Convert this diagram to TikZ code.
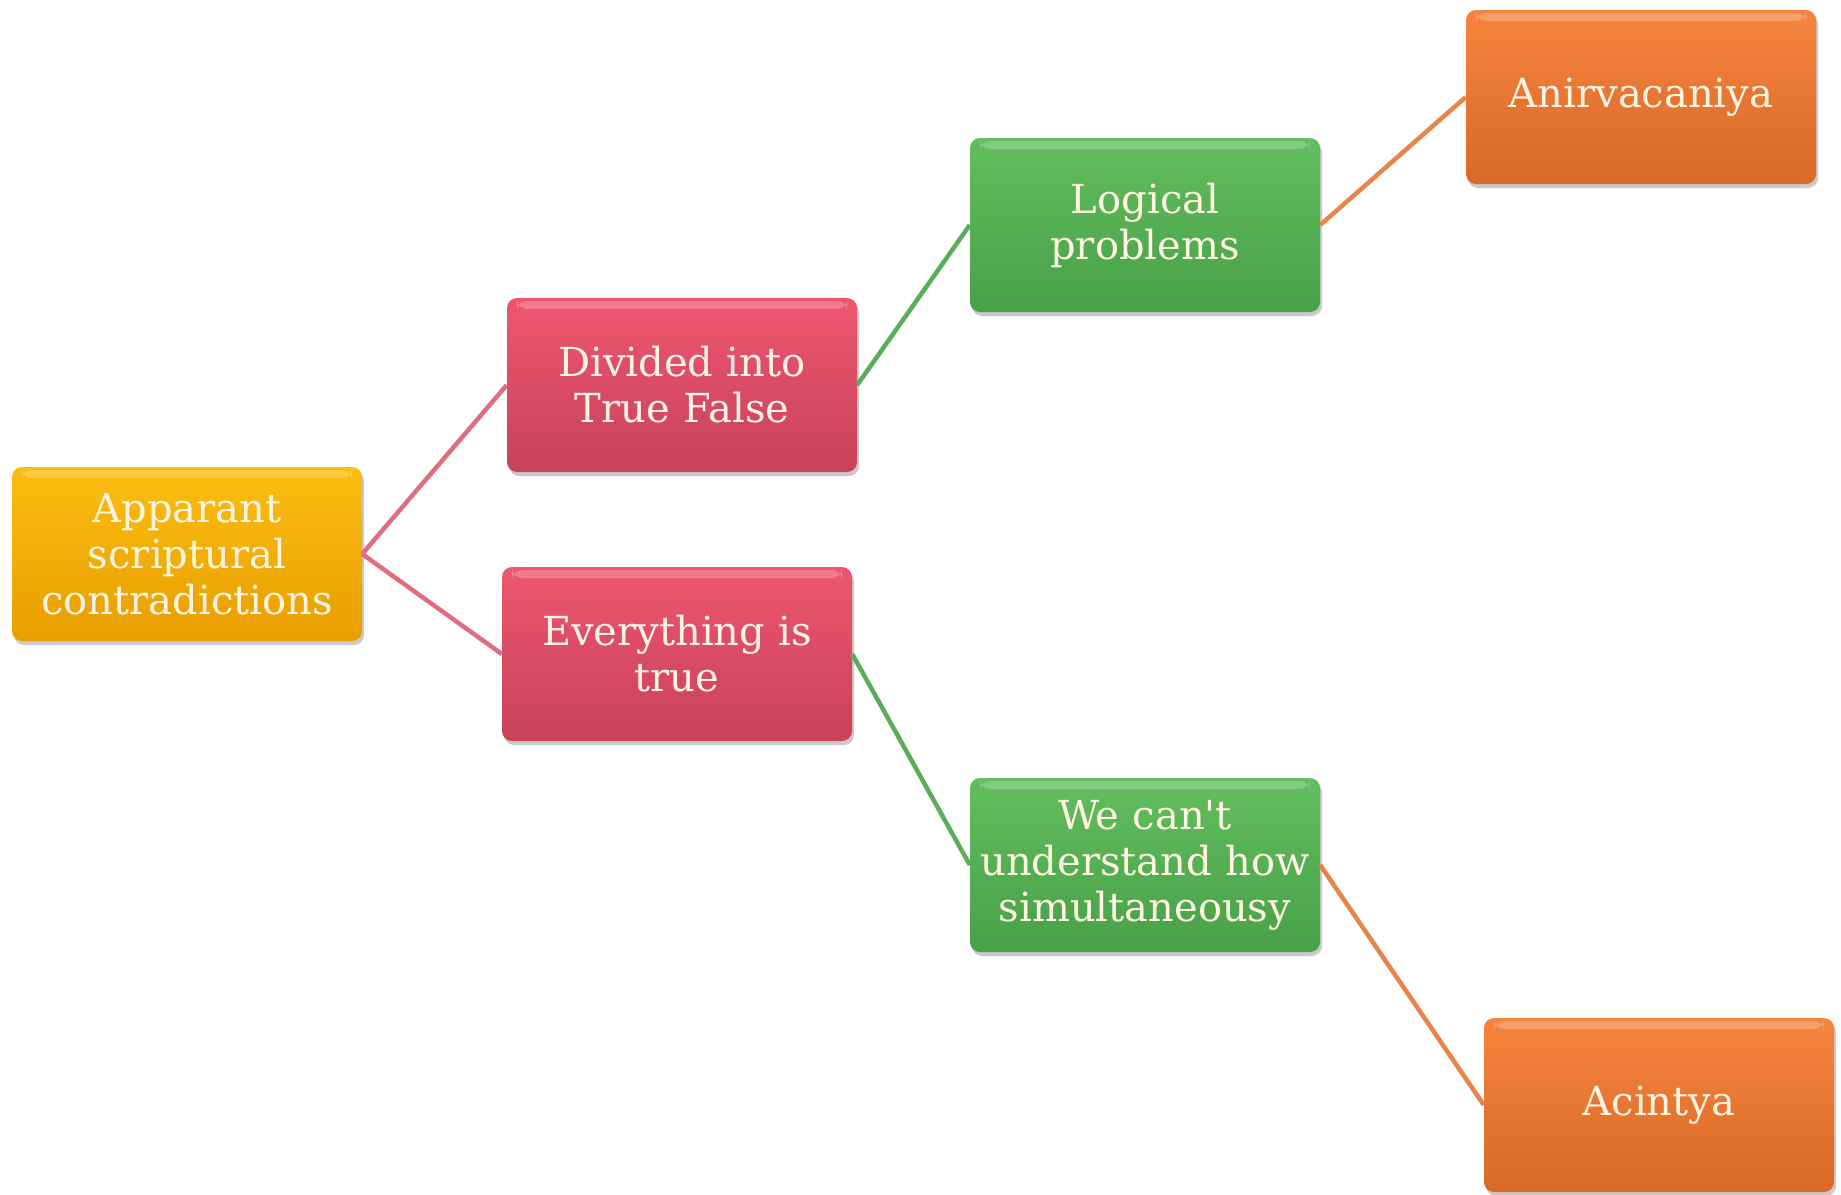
\documentclass[tikz,border=0pt]{standalone}
\usepackage{fontspec}
\setmainfont{DejaVu Serif}
\usetikzlibrary{shadows}
\definecolor{ylwTop}{HTML}{FBBE10}
\definecolor{ylwBot}{HTML}{E89E00}
\definecolor{redTop}{HTML}{EE5670}
\definecolor{redBot}{HTML}{C8425A}
\definecolor{grnTop}{HTML}{62BE5E}
\definecolor{grnBot}{HTML}{48A048}
\definecolor{orgTop}{HTML}{F5843E}
\definecolor{orgBot}{HTML}{D86A26}
\definecolor{lnRed}{HTML}{E06E80}
\definecolor{lnGrn}{HTML}{5AAE5A}
\definecolor{lnOrg}{HTML}{E8844A}
\definecolor{txt}{HTML}{FFF4E2}
\tikzset{
  box/.style={rectangle, rounded corners=10pt, minimum width=350pt, minimum height=174pt,
    text width=346pt, align=center, text=txt, inner sep=0pt,
    font=\fontsize{40}{46}\selectfont,
    drop shadow={shadow xshift=2pt, shadow yshift=-4pt, opacity=0.35, fill=black!60},
    path picture={
      \fill[white, opacity=0.22]
        ([xshift=10pt, yshift=-3pt]path picture bounding box.north west)
        rectangle ([xshift=-10pt, yshift=-11pt]path picture bounding box.north east);
    }},
  ylwbox/.style={box, top color=ylwTop, bottom color=ylwBot},
  redbox/.style={box, top color=redTop, bottom color=redBot},
  grnbox/.style={box, top color=grnTop, bottom color=grnBot},
  orgbox/.style={box, top color=orgTop, bottom color=orgBot},
  link/.style={line width=4.5pt}
}
\begin{document}
\begin{tikzpicture}[x=1pt,y=-1pt]
\useasboundingbox (0,0) rectangle (1841,1194);
\node[ylwbox] (root) at (187,554) {Apparant\\scriptural\\contradictions};
\node[redbox] (div) at (682,385) {Divided into\\True False};
\node[redbox] (all) at (677,654) {Everything is\\true};
\node[grnbox] (log) at (1145,225) {Logical\\problems};
\node[grnbox] (how) at (1145,865) {We can\textquotesingle t\\understand how\\simultaneousy};
\node[orgbox] (ani) at (1641,97) {Anirvacaniya};
\node[orgbox] (aci) at (1659,1105) {Acintya};
\draw[link, lnRed] (root.east) -- (div.west);
\draw[link, lnRed] (root.east) -- (all.west);
\draw[link, lnGrn] (div.east) -- (log.west);
\draw[link, lnGrn] (all.east) -- (how.west);
\draw[link, lnOrg] (log.east) -- (ani.west);
\draw[link, lnOrg] (how.east) -- (aci.west);
\end{tikzpicture}
\end{document}
